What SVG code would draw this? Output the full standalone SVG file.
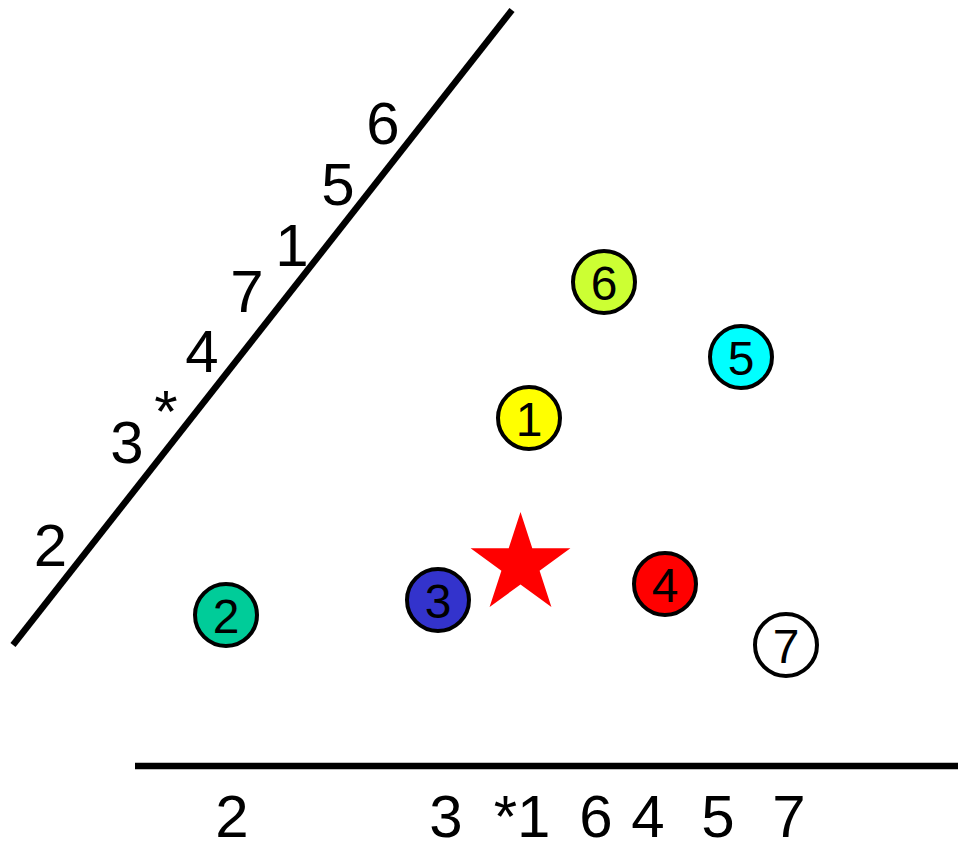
<svg xmlns="http://www.w3.org/2000/svg" width="958" height="844" viewBox="0 0 958 844">
<style>
.lbl{font-family:"Liberation Sans",Arial,sans-serif;font-size:60px;fill:#000;text-anchor:middle}
.num{font-family:"Liberation Sans",Arial,sans-serif;font-size:48px;fill:#000;text-anchor:middle}
.dot{stroke:#000;stroke-width:4}
.axis{stroke:#000;stroke-width:6.5;fill:none}
</style>
<rect width="958" height="844" fill="#fff"/>
<g id="axes">
<line class="axis" x1="13" y1="645" x2="512" y2="10"/>
<line class="axis" x1="135" y1="766" x2="958" y2="766"/>
</g>
<g id="diagonal-labels">
<text class="lbl" x="50.5" y="566">2</text>
<text class="lbl" x="127" y="463">3</text>
<text class="lbl" x="166" y="432">*</text>
<text class="lbl" x="202" y="372">4</text>
<text class="lbl" x="247" y="312">7</text>
<text class="lbl" x="292" y="266">1</text>
<text class="lbl" x="338" y="205">5</text>
<text class="lbl" x="383" y="144">6</text>
</g>
<g id="bottom-labels">
<text class="lbl" x="232" y="837">2</text>
<text class="lbl" x="446" y="837">3</text>
<text class="lbl" x="522" y="837">*1</text>
<text class="lbl" x="596" y="837">6</text>
<text class="lbl" x="648" y="837">4</text>
<text class="lbl" x="718" y="837">5</text>
<text class="lbl" x="789" y="837">7</text>
</g>
<g id="star">
<polygon fill="#ff0000" points="520.5,512 532.3,548.3 570.4,548.3 539.6,570.7 551.4,607 520.5,584.5 489.6,607 501.4,570.7 470.6,548.3 508.7,548.3"/>
</g>
<g id="node6"><circle class="dot" cx="604" cy="282" r="31" fill="#ccff33"/><text class="num" x="604" y="299.5">6</text></g>
<g id="node5"><circle class="dot" cx="741" cy="357" r="31" fill="#00ffff"/><text class="num" x="741" y="374.5">5</text></g>
<g id="node1"><circle class="dot" cx="529" cy="418" r="31" fill="#ffff00"/><text class="num" x="529" y="435.5">1</text></g>
<g id="node2"><circle class="dot" cx="226" cy="615" r="31" fill="#00cc99"/><text class="num" x="226" y="632.5">2</text></g>
<g id="node3"><circle class="dot" cx="438" cy="600" r="31" fill="#3333cc"/><text class="num" x="438" y="617.5">3</text></g>
<g id="node4"><circle class="dot" cx="665" cy="584" r="31" fill="#ff0000"/><text class="num" x="665" y="601.5">4</text></g>
<g id="node7"><circle class="dot" cx="786" cy="645" r="31" fill="#ffffff"/><text class="num" x="786" y="662.5">7</text></g>
</svg>
